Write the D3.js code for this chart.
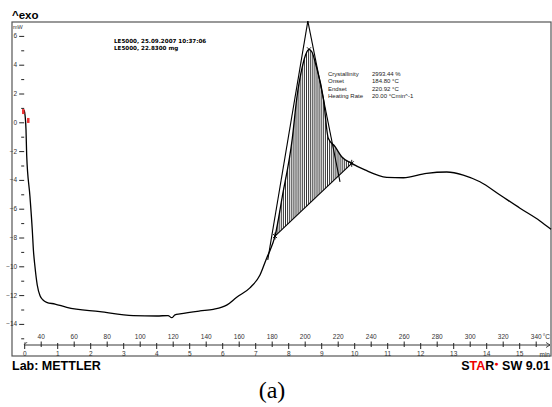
<!DOCTYPE html>
<html>
<head>
<meta charset="utf-8">
<script src="https://cdn.jsdelivr.net/npm/d3@7"></script>
<style>
  body { margin: 0; background: #fff; }
  svg { display: block; }
</style>
</head>
<body>
<div id="chart"></div>
<script>
// DSC curve (temperature in °C, heat flow in mW)
const tempC = [29.9, 30.5, 31.1, 31.5, 33.5, 34.9, 35.6, 36.5, 37.9, 39.6, 41.4, 43.6, 48.7, 55.8,
  75.9, 96.1, 110.3, 117.2, 119.4, 121.4, 124.4, 136.5, 144.6, 152.7, 158.8, 166.8, 172.9, 177.3,
  179.0, 182.0, 186.4, 192.5, 195.2, 198.8, 200.5, 202.6, 204.4, 206.8, 211.3, 214.3, 218.4, 222.4,
  228.5, 236.5, 249.7, 259.8, 273.9, 286.1, 296.1, 306.2, 318.4, 330.5, 342.6, 349.3];
const heatFlow = [0.85, 0.51, -0.53, -2.27, -5.17, -7.48, -8.9, -10.0, -11.3, -12.05, -12.34, -12.5,
  -12.62, -12.85, -13.15, -13.43, -13.45, -13.42, -13.57, -13.38, -13.31, -13.1, -12.99, -12.7, -12.15,
  -11.5, -10.6, -9.33, -8.9, -7.9, -5.17, -1.11, 1.67, 3.98, 4.67, 5.07, 4.88, 3.98, 1.67, -1.11, -1.69,
  -2.39, -2.85, -3.31, -3.82, -3.85, -3.54, -3.45, -3.66, -4.13, -5.05, -5.97, -6.85, -7.43];

// evaluation construction
const baselineT = [182.0, 228.5];
const baselineV = [-7.9, -2.85];
const tangentLeftT = [201.9, 177.6];
const tangentLeftV = [7.03, -9.56];
const tangentRightT = [201.9, 221.4];
const tangentRightV = [7.03, -4.13];

// axis ticks
const tempTicks = [40, 60, 80, 100, 120, 140, 160, 180, 200, 220, 240, 260, 280, 300, 320, 340];
const timeTicks = [0, 1, 2, 3, 4, 5, 6, 7, 8, 9, 10, 11, 12, 13, 14, 15];
const mwTicks = [-14, -12, -10, -8, -6, -4, -2, 0, 2, 4, 6];

// header / result texts
const sampleLines = ["LE5000, 25.09.2007 10:37:06", "LE5000, 22.8300 mg"];
const resultLabels = ["Crystallinity", "Onset", "Endset", "Heating Rate"];
const resultValues = ["2993.44 %", "184.80 °C", "220.92 °C", "20.00 °Cmin^-1"];

const width = 552, height = 407;
const frame = { x: 12, y: 22, w: 539, h: 334 };
const axisY = 345;
const tickFont = "Liberation Sans, Arial, sans-serif";

const svg = d3.select("#chart").append("svg")
  .attr("width", width).attr("height", height);

const x = d3.scaleLinear().domain([40, 340]).range([40.7, 535.7]);
// 20 °C/min, start at 30 °C
const xTime = d3.scaleLinear().domain([0, 1]).range([x(30), x(50)]);
const y = d3.scaleLinear().domain([-14, 6]).range([323.9, 35.9]);

const pts = tempC.map((t, i) => [t, heatFlow[i]]);

// frame
svg.append("rect")
  .attr("x", frame.x).attr("y", frame.y)
  .attr("width", frame.w).attr("height", frame.h)
  .attr("fill", "none").attr("stroke", "#555").attr("stroke-width", 1.2);

// y axis
const x0 = xTime(0);
const yAxis = svg.append("g").attr("transform", `translate(${x0},0)`)
  .call(d3.axisLeft(y).tickValues(mwTicks).tickSize(5).tickPadding(2).tickFormat(d3.format("d")));
yAxis.select(".domain").remove();
const yMinor = svg.append("g").attr("transform", `translate(${x0},0)`)
  .call(d3.axisLeft(y).tickValues(d3.range(-15, 6, 2)).tickSize(3).tickFormat(""));
yMinor.select(".domain").remove();

svg.append("text").attr("x", 13).attr("y", 29)
  .style("font-family", tickFont).style("font-size", "5.5px").attr("fill", "#333")
  .text("mW");

// x axes (temperature above, time below)
const tAxis = svg.append("g").attr("transform", `translate(0,${axisY})`)
  .call(d3.axisTop(x).tickValues(tempTicks).tickSize(3.5).tickPadding(2.5).tickFormat(d3.format("d")));
tAxis.select(".domain").remove();
const tMinor = svg.append("g").attr("transform", `translate(0,${axisY})`)
  .call(d3.axisTop(x).tickValues(d3.range(50, 341, 20)).tickSize(2).tickFormat(""));
tMinor.select(".domain").remove();

const mAxis = svg.append("g").attr("transform", `translate(0,${axisY})`)
  .call(d3.axisBottom(xTime).tickValues(timeTicks).tickSize(4).tickPadding(2).tickFormat(d3.format("d")));
mAxis.select(".domain").remove();
const mMinor = svg.append("g").attr("transform", `translate(0,${axisY})`)
  .call(d3.axisBottom(xTime).tickValues(d3.range(0.5, 16, 1)).tickSize(2).tickFormat(""));
mMinor.select(".domain").remove();

svg.selectAll(".tick line").attr("stroke", "#222");
svg.selectAll(".tick text")
  .attr("fill", "#333")
  .style("font-family", tickFont)
  .style("font-size", "6.5px");

svg.append("line")
  .attr("x1", x0).attr("x2", 550).attr("y1", axisY).attr("y2", axisY)
  .attr("stroke", "#222").attr("stroke-width", 0.9);
svg.append("path")
  .attr("d", `M546,${axisY - 2.5}L550,${axisY}M546,${axisY + 2.5}L550,${axisY}`)
  .attr("stroke", "#222").attr("fill", "none").attr("stroke-width", 0.8);
svg.append("path")
  .attr("d", `M${x0},${axisY}l3,-3M${x0},${axisY}l1,-3`)
  .attr("stroke", "#222").attr("fill", "none").attr("stroke-width", 0.7);

svg.append("text").attr("x", 550).attr("y", 339)
  .attr("text-anchor", "end")
  .style("font-family", tickFont).style("font-size", "6.5px").attr("fill", "#333")
  .text("°C");
svg.append("text").attr("x", 550).attr("y", 356.5)
  .attr("text-anchor", "end")
  .style("font-family", tickFont).style("font-size", "6.5px").attr("fill", "#333")
  .text("min");

// hatched area between curve and baseline
const line = d3.line().x(d => x(d[0])).y(d => y(d[1])).curve(d3.curveMonotoneX);
const seg = pts.filter(d => d[0] >= baselineT[0] && d[0] <= baselineT[1]);
const areaD = line(seg) + `L${x(baselineT[0])},${y(baselineV[0])}Z`;
svg.append("clipPath").attr("id", "hatchClip").append("path").attr("d", areaD);

svg.append("g").attr("clip-path", "url(#hatchClip)")
  .selectAll("line")
  .data(d3.range(x(baselineT[0]), x(baselineT[1]), 2.1))
  .join("line")
  .attr("x1", d => d).attr("x2", d => d)
  .attr("y1", y(7)).attr("y2", y(-10))
  .attr("stroke", "#000").attr("stroke-width", 0.8);

// baseline + tangents
const straight = d3.line().x(d => x(d[0])).y(d => y(d[1]));
[[baselineT, baselineV], [tangentLeftT, tangentLeftV], [tangentRightT, tangentRightV]].forEach(([ts, vs]) => {
  svg.append("path")
    .attr("d", straight(ts.map((t, i) => [t, vs[i]])))
    .attr("fill", "none").attr("stroke", "#000").attr("stroke-width", 1.1);
});

// the curve
svg.append("path")
  .datum(pts)
  .attr("d", line)
  .attr("fill", "none").attr("stroke", "#000").attr("stroke-width", 1.3);

// markers: peak cross, onset/endset limits
const peak = pts.reduce((a, b) => (b[1] > a[1] ? b : a));
svg.append("path")
  .attr("transform", `translate(${x(peak[0])},${y(peak[1])})`)
  .attr("d", "M-2,-2L2,2M-2,2L2,-2")
  .attr("stroke", "#000").attr("stroke-width", 0.9);
baselineT.forEach((t, i) => {
  svg.append("path")
    .attr("transform", `translate(${x(t)},${y(baselineV[i])})`)
    .attr("d", "M0,-3.5L0,3.5M-2,-2L2,2M-2,2L2,-2")
    .attr("stroke", "#000").attr("stroke-width", 0.9);
});

// red start markers
svg.append("rect")
  .attr("x", x(pts[0][0]) - 2).attr("y", y(pts[0][1]) - 1)
  .attr("width", 2.5).attr("height", 5).attr("fill", "#e33");
svg.append("rect")
  .attr("x", x(pts[1][0]) + 2).attr("y", y(pts[1][1]) + 3)
  .attr("width", 2.5).attr("height", 5).attr("fill", "#e33");

// texts
svg.append("text").attr("x", 12).attr("y", 18.5)
  .style("font-family", tickFont).style("font-size", "11.5px")
  .style("font-weight", "bold").text("^exo");

svg.append("g").selectAll("text").data(sampleLines).join("text")
  .attr("x", 114).attr("y", (d, i) => 43 + i * 7.3)
  .style("font-family", "DejaVu Sans, sans-serif").style("font-size", "5.6px")
  .style("font-weight", "bold").text(d => d);

const res = svg.append("g").style("font-family", tickFont)
  .style("font-size", "6px").attr("fill", "#222");
res.selectAll(".lbl").data(resultLabels).join("text").attr("class", "lbl")
  .attr("x", 328).attr("y", (d, i) => 75.5 + i * 7.5).text(d => d);
res.selectAll(".val").data(resultValues).join("text").attr("class", "val")
  .attr("x", 372).attr("y", (d, i) => 75.5 + i * 7.5).text(d => d);

svg.append("text").attr("x", 12).attr("y", 370)
  .style("font-family", tickFont).style("font-size", "12.5px")
  .style("font-weight", "bold").text("Lab: METTLER");

const star = svg.append("text").attr("x", 550).attr("y", 370).attr("text-anchor", "end")
  .style("font-family", tickFont).style("font-size", "12.5px")
  .style("font-weight", "bold");
star.append("tspan").text("S");
star.append("tspan").attr("fill", "#e00").text("TA");
star.append("tspan").text("R");
star.append("tspan").attr("fill", "#e00").attr("font-size", "7px").attr("dy", -4).text("●");
star.append("tspan").attr("dy", 4).text(" SW 9.01");

svg.append("text").attr("x", 272).attr("y", 398).attr("text-anchor", "middle")
  .style("font-family", "Liberation Serif, Times New Roman, serif").style("font-size", "24px")
  .text("(a)");
</script>
</body>
</html>
